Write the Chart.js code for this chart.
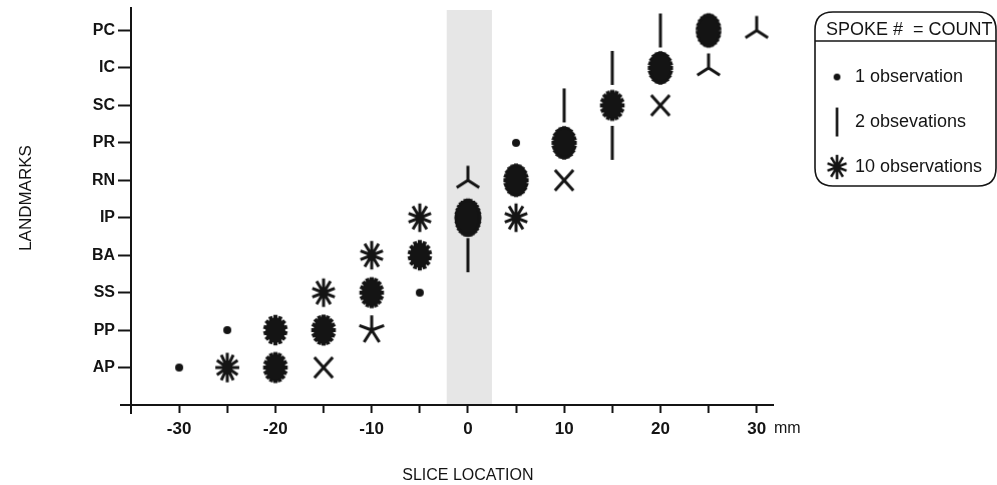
<!DOCTYPE html>
<html>
<head>
<meta charset="utf-8">
<script src="https://cdn.jsdelivr.net/npm/chart.js@4.4.0/dist/chart.umd.min.js"></script>
<style>
  body { margin: 0; background: #fff; }
  #wrap { width: 997px; height: 485px; }
</style>
</head>
<body>
<div id="wrap"><canvas id="chart"></canvas></div>
<script>
// landmarks from bottom to top
var landmarks = ["AP", "PP", "SS", "BA", "IP", "RN", "PR", "SC", "IC", "PC"];

// one entry per sunflower: landmark, slice location (mm), count (= spokes)
var pointLandmark = ["AP", "AP", "AP", "AP",
                     "PP", "PP", "PP", "PP",
                     "SS", "SS", "SS",
                     "BA", "BA", "BA",
                     "IP", "IP", "IP",
                     "RN", "RN", "RN",
                     "PR", "PR", "PR",
                     "SC", "SC", "SC",
                     "IC", "IC", "IC",
                     "PC", "PC", "PC"];
var pointSlice = [-30, -25, -20, -15,
                  -25, -20, -15, -10,
                  -15, -10, -5,
                  -10, -5, 0,
                  -5, 0, 5,
                  0, 5, 10,
                  5, 10, 15,
                  10, 15, 20,
                  15, 20, 25,
                  20, 25, 30];
var pointCount = [1, 12, 16, 4,
                  1, 14, 16, 5,
                  10, 16, 1,
                  10, 14, 2,
                  10, 30, 10,
                  3, 20, 4,
                  1, 20, 2,
                  2, 16, 4,
                  2, 20, 3,
                  2, 22, 3];

var xTickValues = [-30, -25, -20, -15, -10, -5, 0, 5, 10, 15, 20, 25, 30];
var shadedBand = [-2.2, 2.5];
var legendCounts = [1, 2, 10];
var legendLabels = ["1 observation", "2 obsevations", "10 observations"];

var INK = "#141414";
var FONT = "'Liberation Sans', Arial, sans-serif";

// draws a sunflower symbol centred on (cx, cy)
function drawFlower(ctx, cx, cy, n) {
  ctx.save();
  ctx.fillStyle = INK;
  ctx.strokeStyle = INK;
  if (n === 1) {
    ctx.beginPath();
    ctx.arc(cx, cy, 4, 0, Math.PI * 2);
    ctx.fill();
    ctx.restore();
    return;
  }
  var rx, ry;
  if (n === 2) {
    rx = 0; ry = 17;
  } else {
    rx = n < 10 ? 13 : 11 + Math.min(n, 30) * 0.08;
    ry = rx * (1.08 + Math.min(n, 30) * 0.012);
  }
  var start = n === 4 ? -Math.PI / 4 : -Math.PI / 2;
  ctx.lineWidth = n > 12 ? 4 : 3;
  ctx.lineCap = "butt";
  ctx.beginPath();
  for (var k = 0; k < n; k++) {
    var a = start + k * 2 * Math.PI / n;
    ctx.moveTo(cx, cy);
    ctx.lineTo(cx + rx * Math.cos(a), cy + ry * Math.sin(a));
  }
  ctx.stroke();
  if (n > 12) {
    ctx.beginPath();
    ctx.ellipse(cx, cy, rx * 0.82, ry * 0.82, 0, 0, Math.PI * 2);
    ctx.fill();
  }
  ctx.restore();
}

var flowerCache = {};
function flowerImage(n) {
  if (!flowerCache[n]) {
    var c = document.createElement("canvas");
    c.width = 50;
    c.height = 50;
    drawFlower(c.getContext("2d"), 25, 25, n);
    flowerCache[n] = c;
  }
  return flowerCache[n];
}

var points = pointSlice.map(function (x, i) {
  return { x: x, y: landmarks.indexOf(pointLandmark[i]) + 1 };
});

var decorations = {
  id: "decorations",
  beforeDatasetsDraw: function (chart) {
    var ctx = chart.ctx;
    var xs = chart.scales.x;
    var area = chart.chartArea;
    var x0 = xs.getPixelForValue(shadedBand[0]);
    var x1 = xs.getPixelForValue(shadedBand[1]);
    ctx.save();
    ctx.fillStyle = "#e6e6e6";
    ctx.fillRect(x0, area.top + 2, x1 - x0, area.bottom - area.top - 3);
    ctx.restore();
  },
  afterDraw: function (chart) {
    var ctx = chart.ctx;
    var area = chart.chartArea;
    var xs = chart.scales.x;
    ctx.save();
    ctx.strokeStyle = INK;
    ctx.lineWidth = 2;
    // axis overhang at the origin
    ctx.beginPath();
    ctx.moveTo(area.left - 11, area.bottom);
    ctx.lineTo(area.left, area.bottom);
    ctx.moveTo(area.left, area.bottom);
    ctx.lineTo(area.left, area.bottom + 9);
    ctx.stroke();

    ctx.fillStyle = INK;
    ctx.textBaseline = "middle";

    // axis titles and unit
    ctx.font = "16px " + FONT;
    ctx.textAlign = "center";
    ctx.fillText("SLICE LOCATION", xs.getPixelForValue(0), 476);
    ctx.save();
    ctx.translate(26, 198);
    ctx.rotate(-Math.PI / 2);
    ctx.font = "17px " + FONT;
    ctx.fillText("LANDMARKS", 0, 0);
    ctx.restore();
    ctx.textAlign = "left";
    ctx.font = "16px " + FONT;
    ctx.fillText("mm", 774, 429);

    // legend box
    var L = 815, T = 12, R = 996, B = 186, r = 18;
    ctx.lineWidth = 1.6;
    ctx.beginPath();
    ctx.moveTo(L + r, T);
    ctx.lineTo(R - r, T);
    ctx.quadraticCurveTo(R, T, R, T + r);
    ctx.lineTo(R, B - r);
    ctx.quadraticCurveTo(R, B, R - r, B);
    ctx.lineTo(L + r, B);
    ctx.quadraticCurveTo(L, B, L, B - r);
    ctx.lineTo(L, T + r);
    ctx.quadraticCurveTo(L, T, L + r, T);
    ctx.stroke();
    ctx.beginPath();
    ctx.moveTo(L, 41);
    ctx.lineTo(R, 41);
    ctx.stroke();

    ctx.font = "18px " + FONT;
    ctx.fillText("SPOKE #  = COUNT", 826, 30);

    legendCounts.forEach(function (n, i) {
      var y = 77 + i * 45;
      var img = flowerImage(n);
      ctx.save();
      ctx.translate(837, y);
      ctx.scale(0.85, 0.85);
      ctx.drawImage(img, -25, -25);
      ctx.restore();
      ctx.fillText(legendLabels[i], 855, y);
    });
    ctx.restore();
  }
};

new Chart(document.getElementById("chart"), {
  type: "scatter",
  data: {
    datasets: [{
      data: points,
      clip: false,
      pointStyle: function (c) {
        return flowerImage(pointCount[c.dataIndex]);
      },
      pointRadius: 20,
      pointHoverRadius: 20
    }]
  },
  options: {
    responsive: true,
    maintainAspectRatio: false,
    animation: false,
    layout: { autoPadding: false, padding: { left: 0, right: 224, top: 8, bottom: 0 } },
    plugins: { legend: { display: false }, tooltip: { enabled: false } },
    scales: {
      x: {
        type: "linear",
        min: -35,
        max: 31.7,
        afterFit: function (scale) {
          scale.height = 80;
          scale.paddingLeft = 0;
          scale.paddingRight = 0;
        },
        afterBuildTicks: function (scale) {
          scale.ticks = xTickValues.map(function (v) { return { value: v }; });
        },
        ticks: {
          autoSkip: false,
          maxRotation: 0,
          padding: 6,
          color: INK,
          font: { family: FONT, size: 17, weight: "bold" },
          callback: function (v) { return v % 10 === 0 ? String(v) : ""; }
        },
        grid: { drawOnChartArea: false, drawTicks: true, tickLength: 8, tickWidth: 2, color: INK },
        border: { display: true, width: 2, color: INK }
      },
      y: {
        type: "linear",
        min: 0,
        max: 10.6,
        afterFit: function (scale) {
          scale.width = 131;
          scale.paddingTop = 0;
          scale.paddingBottom = 0;
        },
        afterBuildTicks: function (scale) {
          scale.ticks = landmarks.map(function (_, i) { return { value: i + 1 }; });
        },
        ticks: {
          autoSkip: false,
          padding: 3,
          color: INK,
          font: { family: FONT, size: 16, weight: "bold" },
          callback: function (v) { return landmarks[v - 1]; }
        },
        grid: { drawOnChartArea: false, drawTicks: true, tickLength: 13, tickWidth: 2, color: INK },
        border: { display: true, width: 2, color: INK }
      }
    }
  },
  plugins: [decorations]
});
</script>
</body>
</html>
